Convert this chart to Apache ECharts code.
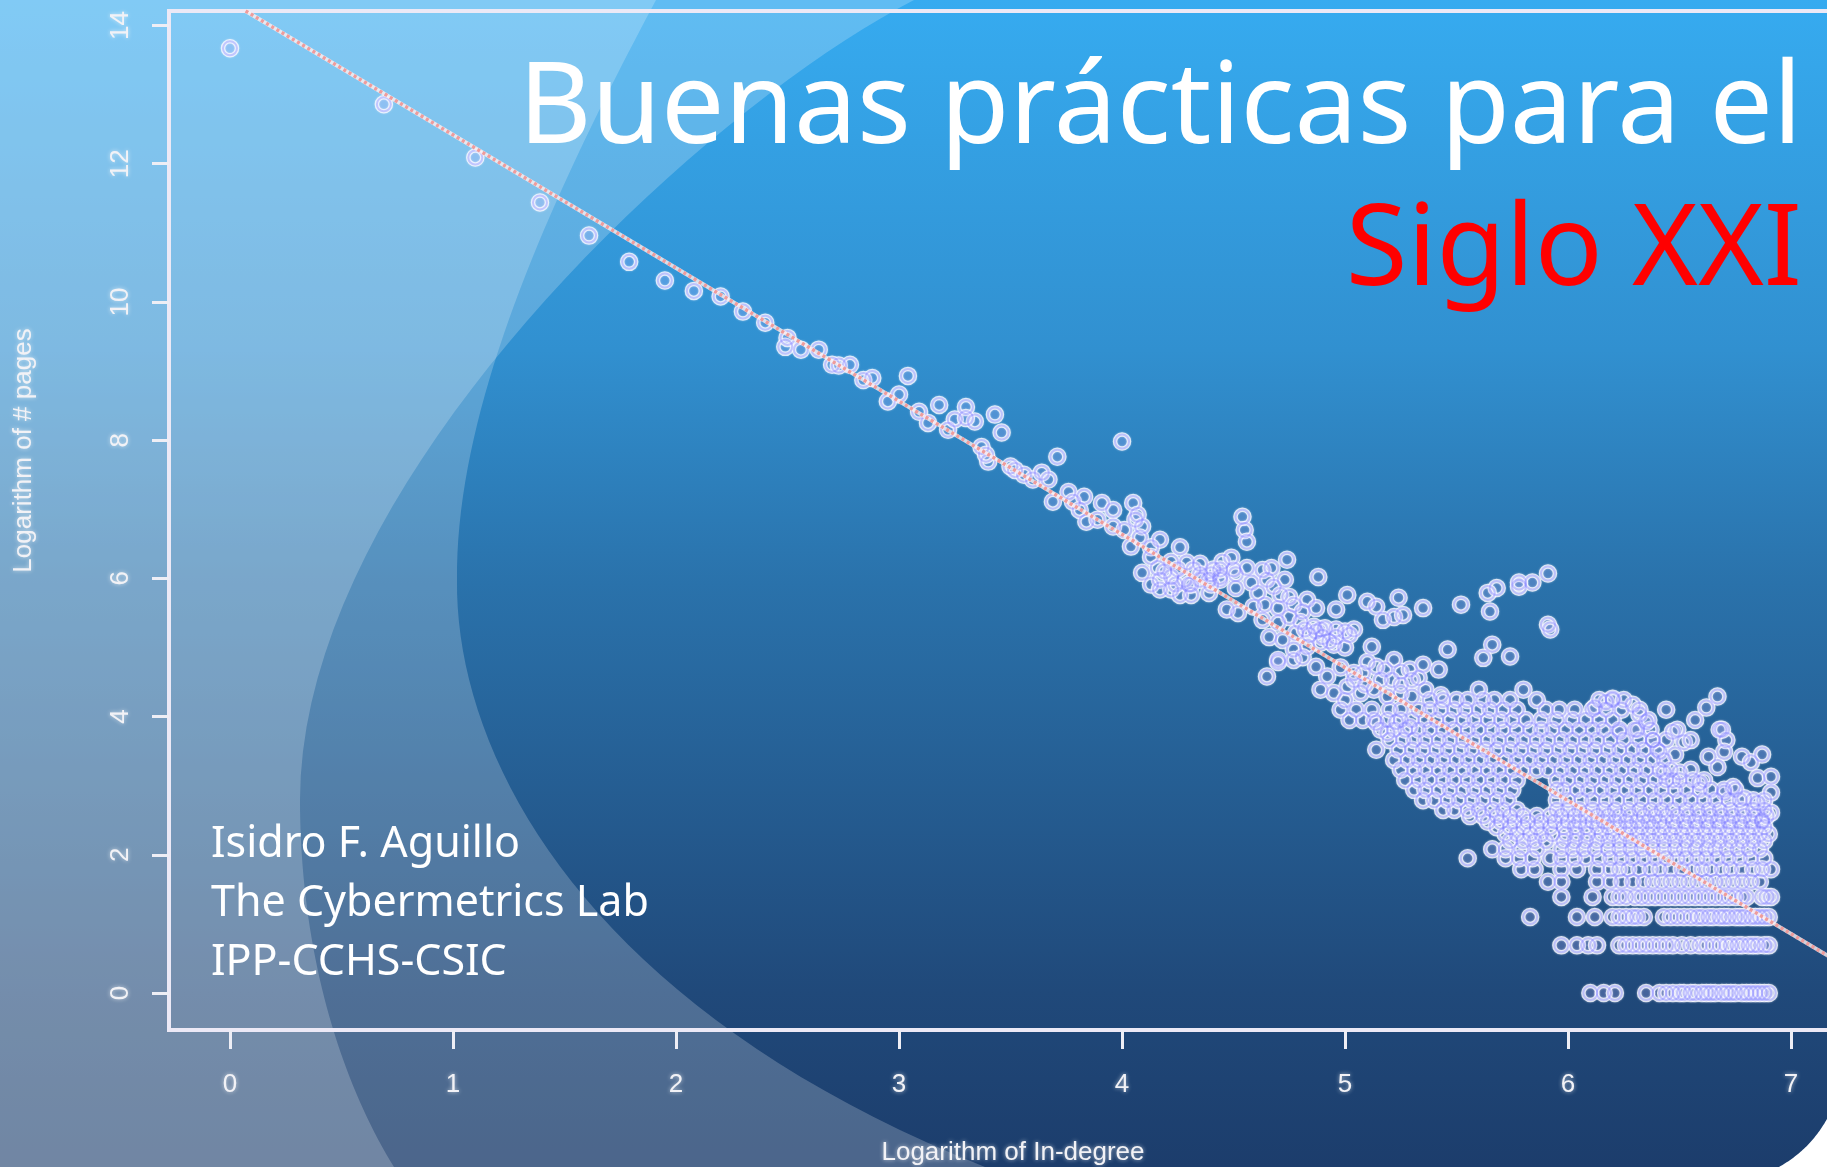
<!DOCTYPE html>
<html><head><meta charset="utf-8"><title>Buenas prácticas para el Siglo XXI</title>
<style>html,body{margin:0;padding:0;background:#fff;overflow:hidden}#c{width:1827px;height:1167px}</style>
<script src="https://cdn.jsdelivr.net/npm/echarts@6/dist/echarts.min.js"></script></head>
<body><div id="c"></div><script>
const xTicks=[0,1,2,3,4,5,6,7];
const yTicks=[0,2,4,6,8,10,12,14];
const fitLine=[[0.07,14.21],[7.206,0.46]];
// individually read points: [log in-degree, log pages]
const sparsePoints=[[0,13.67],[0.69,12.86],[1.10,12.09],[1.39,11.44],[1.61,10.96],[1.79,10.58],[1.95,10.31],[2.08,10.16],[2.20,10.08],[2.30,9.86],[2.40,9.70],[2.49,9.35],[2.50,9.48],[2.56,9.31],[2.64,9.31],[2.70,9.09],[2.73,9.08],[2.78,9.09],[2.84,8.87],[2.88,8.90],[2.95,8.56],[3.00,8.66],[3.04,8.93],[3.09,8.41],[3.13,8.25],[3.18,8.51],[3.22,8.15],[3.25,8.30],[3.30,8.48],[3.34,8.27],[3.30,8.32],[3.43,8.37],[3.46,8.11],[3.37,7.90],[3.40,7.69],[3.39,7.79],[3.50,7.62],[3.52,7.57],[3.56,7.50],[3.60,7.43],[3.64,7.53],[3.67,7.43],[3.71,7.76],[3.69,7.11],[3.76,7.25],[3.78,7.11],[3.83,7.18],[3.81,6.99],[3.84,6.82],[3.91,7.09],[3.89,6.85],[3.96,6.99],[3.96,6.75],[4.00,7.98],[4.05,7.09],[4.04,6.46],[4.06,6.85],[4.01,6.70],
[4.07,6.92],[4.09,6.75],[4.17,6.56],[4.08,6.59],[4.13,6.45],[4.13,6.31],[4.26,6.45],[4.29,6.23],[4.22,6.24],[4.09,6.08],[4.16,6.15],[4.17,5.98],[4.22,5.84],[4.26,5.76],[4.31,5.76],[4.39,5.79],[4.22,6.02],[4.28,5.98],[4.35,5.98],[4.25,6.13],[4.32,6.13],[4.41,6.13],[4.45,6.24],[4.49,6.30],[4.44,6.02],[4.50,6.13],[4.39,5.98],[4.51,5.86],[4.56,6.15],[4.58,5.94],[4.63,6.12],[4.67,6.15],[4.74,6.27],[4.73,5.98],[4.65,5.98],[4.61,5.79],[4.47,5.55],[4.52,5.50],[4.68,5.88],[4.59,5.59],[4.64,5.62],[4.71,5.76],[4.75,5.73],[4.70,5.57],[4.77,5.62],[4.83,5.69],[4.87,5.57],[4.81,5.52],[4.75,5.44],[4.63,5.40],[4.70,5.36],[4.80,5.37],[4.86,5.30],[4.66,5.15],[4.72,5.11],[4.78,5.21],[4.84,5.18],[4.90,5.15],[4.96,5.15],[5.02,5.18],[4.89,5.07],[4.95,5.04],[5.00,5.00],[4.77,4.97],[4.83,5.01],[4.70,4.82],[4.65,4.58],[4.77,4.82],[4.81,4.86],[4.87,4.72],[5.12,5.01],[5.10,4.79],[5.14,4.72],[5.22,4.82],[5.25,4.65],[5.08,4.63],[5.16,4.53],[4.98,4.71],[5.04,4.63],[5.21,4.53],[4.92,4.58],[4.89,4.39],[4.95,4.34],[5.01,4.43],[5.07,4.34],[5.13,4.39],[5.19,4.29],[5.25,4.34],[5.30,4.29],[5.14,3.91],[5.19,3.76],[5.23,3.92],[5.29,3.85],[5.14,3.52],
[4.54,6.89],[4.55,6.70],[4.56,6.53],[4.88,6.02],[5.01,5.76],[4.96,5.55],[5.10,5.66],[5.14,5.59],[5.17,5.40],[5.24,5.72],[5.22,5.44],[5.26,5.47],[5.35,5.57],[5.52,5.62],[5.68,5.86],[5.64,5.79],[5.65,5.52],[5.78,5.88],[5.78,5.94],[5.84,5.94],[5.91,6.07],[5.91,5.33],[5.92,5.26],[5.66,5.04],[5.62,4.85],[5.74,4.87],[5.60,4.39],[5.80,4.39],[4.70,4.79],[5.33,4.56],[5.35,4.75],[5.42,4.68],[5.46,4.97],[5.55,1.95],
[6.17,4.21],[6.20,4.26],[6.12,4.13],[6.29,4.17],[6.32,4.03],[6.35,3.92],[6.23,3.78],[6.31,3.81],[6.38,3.66],[6.41,3.49],[6.47,3.78],[6.52,3.63],[6.48,3.45],[6.62,4.13],[6.67,4.29],[6.68,3.81],[6.71,3.66],[6.63,3.42],[6.67,3.27],[6.70,3.49],[6.78,3.42],[6.87,3.45],[6.82,3.34],[6.85,3.11],[6.91,3.13],[6.74,2.98],[6.70,2.90],[6.55,3.23],[6.59,3.04],[6.50,3.19],[6.43,3.19],[6.47,3.08],[6.91,2.90],[6.91,2.61],[6.79,2.82],[6.85,2.75],[6.87,2.50],
[4.35,6.21],[4.40,6.06],[4.44,5.98],[4.35,6.06],[4.31,5.91],[4.40,5.91],[4.44,6.13],[4.51,6.06],[4.82,5.26],[4.87,5.23],[4.91,5.28],[4.96,5.26],[5.00,5.23],[5.04,5.26],[4.93,5.09],[4.89,5.26],[4.13,5.91],[4.17,5.84],[4.24,5.91],[4.30,5.91],[4.19,6.10],[5.00,4.24],[5.04,4.53],[5.09,4.46],[5.18,4.68],[5.25,4.46],[5.29,4.68],[5.30,4.53],[5.36,4.39],[5.43,4.31]];
// the dense part of the cloud, as rows of equal log pages
const rowLevels=[0,0.69,1.10,1.39,1.61,1.79,1.95,2.08,2.20,2.30,2.40,2.48,2.56,2.65,2.79,2.94,3.08,3.23,3.37,3.52,3.66,3.81,3.95,4.10,4.24];
const rowXs=[
[6.10,6.16,6.21,6.35,6.41,6.44,6.47,6.50,6.52,6.55,6.57,6.60,6.62,6.64,6.66,6.69,6.71,6.73,6.75,6.78,6.80,6.82,6.84,6.86,6.88,6.90],
[5.97,6.04,6.09,6.13,6.23,6.26,6.29,6.32,6.35,6.38,6.41,6.44,6.47,6.51,6.55,6.59,6.62,6.65,6.68,6.71,6.73,6.76,6.78,6.81,6.83,6.85,6.88,6.90],
[5.83,6.04,6.12,6.20,6.23,6.26,6.29,6.31,6.34,6.43,6.46,6.49,6.52,6.55,6.58,6.60,6.63,6.65,6.68,6.70,6.72,6.75,6.77,6.79,6.82,6.84,6.86,6.88,6.90],
[5.97,6.11,6.20,6.23,6.26,6.30,6.33,6.36,6.39,6.42,6.45,6.48,6.51,6.54,6.57,6.60,6.63,6.66,6.69,6.72,6.75,6.78,6.80,6.87,6.89,6.91],
[5.91,5.97,6.13,6.19,6.24,6.29,6.34,6.38,6.42,6.46,6.50,6.54,6.58,6.62,6.66,6.70,6.74,6.78,6.82,6.86],
[5.79,5.85,5.97,6.04,6.13,6.19,6.23,6.27,6.32,6.37,6.41,6.46,6.51,6.56,6.60,6.64,6.69,6.73,6.78,6.83,6.87,6.91],
[5.72,5.78,5.84,5.92,5.97,6.03,6.08,6.14,6.19,6.24,6.29,6.34,6.39,6.44,6.49,6.53,6.58,6.62,6.67,6.72,6.77,6.82,6.88],
[5.66,5.72,5.79,5.86,5.97,6.02,6.07,6.12,6.18,6.23,6.28,6.33,6.38,6.43,6.48,6.52,6.57,6.62,6.66,6.71,6.76,6.81,6.86],
[5.74,5.80,5.85,5.90,5.98,6.03,6.08,6.13,6.18,6.23,6.28,6.33,6.38,6.43,6.48,6.53,6.58,6.63,6.68,6.73,6.78,6.83,6.88],
[5.72,5.77,5.83,5.88,5.93,5.99,6.04,6.09,6.15,6.20,6.26,6.31,6.36,6.41,6.46,6.51,6.56,6.61,6.66,6.71,6.76,6.81,6.86,6.90],
[5.68,5.74,5.80,5.86,5.92,5.98,6.03,6.08,6.13,6.18,6.23,6.28,6.33,6.38,6.43,6.48,6.53,6.58,6.63,6.68,6.73,6.78,6.83,6.88],
[5.64,5.70,5.76,5.82,5.88,5.94,6.00,6.05,6.11,6.16,6.21,6.26,6.31,6.36,6.41,6.47,6.52,6.57,6.62,6.67,6.72,6.77,6.82,6.87],
[5.56,5.62,5.68,5.74,5.80,5.86,5.92,5.97,6.03,6.08,6.13,6.18,6.23,6.28,6.34,6.39,6.44,6.49,6.54,6.59,6.64,6.69,6.74,6.79,6.84,6.89],
[5.44,5.49,5.55,5.60,5.66,5.71,5.77,5.95,6.00,6.05,6.11,6.16,6.21,6.27,6.32,6.37,6.42,6.47,6.53,6.58,6.63,6.68,6.73,6.78,6.83,6.88],
[5.35,5.40,5.46,5.51,5.57,5.62,5.68,5.73,5.95,6.00,6.06,6.11,6.17,6.22,6.28,6.33,6.39,6.44,6.50,6.55,6.61,6.66,6.72,6.77,6.83,6.88],
[5.31,5.36,5.42,5.47,5.53,5.58,5.64,5.69,5.75,5.95,5.98,6.04,6.09,6.15,6.20,6.26,6.31,6.37,6.42,6.48,6.53,6.59,6.64,6.70,6.75],
[5.27,5.33,5.38,5.44,5.49,5.55,5.60,5.66,5.71,5.77,5.95,6.00,6.06,6.11,6.17,6.22,6.28,6.33,6.39,6.44,6.50,6.56,6.61],
[5.25,5.31,5.36,5.42,5.47,5.53,5.58,5.64,5.69,5.75,5.80,5.86,5.91,5.97,6.02,6.08,6.13,6.19,6.24,6.30,6.35,6.41,6.46],
[5.22,5.28,5.33,5.39,5.44,5.50,5.55,5.61,5.66,5.72,5.77,5.83,5.88,5.94,5.99,6.05,6.10,6.16,6.21,6.27,6.32,6.38,6.43],
[5.24,5.30,5.35,5.41,5.46,5.52,5.57,5.63,5.68,5.74,5.79,5.85,5.90,5.96,6.01,6.07,6.12,6.18,6.23,6.29,6.34,6.40],
[5.20,5.26,5.31,5.36,5.42,5.47,5.53,5.58,5.64,5.69,5.75,5.80,5.86,5.91,5.97,6.02,6.08,6.13,6.19,6.25,6.32,6.38,6.44,6.55],
[5.16,5.22,5.27,5.33,5.38,5.44,5.49,5.55,5.60,5.66,5.71,5.77,5.83,5.88,5.93,5.99,6.05,6.11,6.16,6.23,6.30,6.37,6.49,6.69],
[5.02,5.08,5.13,5.19,5.25,5.30,5.36,5.41,5.47,5.53,5.58,5.64,5.70,5.75,5.81,5.88,5.95,6.02,6.08,6.14,6.20,6.36,6.57],
[4.98,5.05,5.12,5.20,5.25,5.33,5.38,5.43,5.49,5.54,5.60,5.65,5.71,5.77,5.90,5.96,6.03,6.11,6.17,6.24,6.32,6.44],
[5.38,5.44,5.50,5.55,5.62,5.67,5.74,5.86,6.14,6.20,6.25]];
const points=sparsePoints.concat(rowLevels.flatMap((y,i)=>rowXs[i].map(x=>[x,y])));
const xTitle='Logarithm of In-degree', yTitle='Logarithm of # pages';
const heading=['Buenas prácticas para el','Siglo XXI'];
const author=['Isidro F. Aguillo','The Cybermetrics Lab','IPP-CCHS-CSIC'];

// decorative slide background: sampled curves for the two translucent swooshes
function curve(a,b,c,d){const o=[];for(let i=0;i<=40;i++){const t=i/40,u=1-t;o.push([0,1].map(k=>u*u*u*a[k]+3*u*u*t*b[k]+3*u*t*t*c[k]+t*t*t*d[k]));}return o;}
const swooshOuter=[...curve([914,0],[700,110],[300,480],[300,800]),...curve([300,800],[300,950],[340,1080],[394,1167]),[0,1167],[0,0]];
const swooshInner=[...curve([656,0],[560,180],[455,400],[457,580]),...curve([457,580],[455,760],[590,1010],[985,1167]),[0,1167],[0,0]];
const cornerCut=[...curve([1827,1119],[1815,1140],[1800,1155],[1779,1167]),[1827,1167]];

const FONT='"Noto Sans"';
const labelStyle={color:'#f2f2f6',fontFamily:'Liberation Sans',fontSize:26,textShadowColor:'rgba(255,255,255,.65)',textShadowBlur:4};
const chart=echarts.init(document.getElementById('c'),null,{renderer:'canvas'});
chart.setOption({
 animation:false,
 backgroundColor:{type:'linear',x:0,y:0,x2:0,y2:1,colorStops:[{offset:0,color:'#36abf0'},{offset:.3,color:'#3190d0'},{offset:.5,color:'#2a72ab'},{offset:.85,color:'#20497a'},{offset:1,color:'#1c3d6c'}]},
 title:[
  {text:heading[0],right:20,top:49,textStyle:{color:'#fff',fontFamily:FONT,fontWeight:'normal',fontSize:112.5}},
  {text:heading[1],right:20,top:191,textStyle:{color:'#f00',fontFamily:FONT,fontWeight:'normal',fontSize:112.5}},
  {text:author[0],left:206,top:818,textStyle:{color:'#fff',fontFamily:FONT,fontWeight:'normal',fontSize:43}},
  {text:author[1],left:206,top:877,textStyle:{color:'#fff',fontFamily:FONT,fontWeight:'normal',fontSize:43}},
  {text:author[2],left:206,top:936,textStyle:{color:'#fff',fontFamily:FONT,fontWeight:'normal',fontSize:43}}
 ],
 graphic:[
  {type:'polygon',z:-2,silent:true,shape:{points:swooshOuter},style:{fill:'rgba(255,255,255,.21)'}},
  {type:'polygon',z:-2,silent:true,shape:{points:swooshInner},style:{fill:'rgba(255,255,255,.21)'}},
  {type:'polygon',z:50,silent:true,shape:{points:cornerCut},style:{fill:'#fff'}}
 ],
 grid:{left:169,top:11,right:-10,bottom:137,outerBoundsMode:'none',show:true,borderColor:'#ece9f6',borderWidth:4,backgroundColor:'transparent'},
 xAxis:{type:'value',min:-0.2735,max:7.206,splitLine:{show:false},axisLine:{show:false,onZero:false},
  axisTick:{show:true,customValues:xTicks,length:19,lineStyle:{color:'#eeeef5',width:3}},
  axisLabel:Object.assign({customValues:xTicks,margin:42},labelStyle),
  name:xTitle,nameLocation:'middle',nameGap:110,nameTextStyle:Object.assign({padding:[0,0,0,20]},labelStyle)},
 yAxis:{type:'value',min:-0.535,max:14.21,splitLine:{show:false},axisLine:{show:false,onZero:false},
  axisTick:{show:true,customValues:yTicks,length:17,lineStyle:{color:'#eeeef5',width:3}},
  axisLabel:Object.assign({customValues:yTicks,margin:35,rotate:90},labelStyle),
  name:yTitle,nameLocation:'middle',nameGap:132,nameRotate:90,nameTextStyle:Object.assign({padding:[0,0,0,140]},labelStyle)},
 series:[
  {type:'scatter',data:points,symbol:'circle',symbolSize:14,z:3,silent:true,itemStyle:{color:'rgba(150,150,255,.2)',borderColor:'rgba(250,250,255,.98)',borderWidth:4.5,shadowBlur:2,shadowColor:'rgba(235,235,255,.7)'}},
  {type:'scatter',data:points,symbol:'circle',symbolSize:14,z:4,silent:true,itemStyle:{color:'transparent',borderColor:'rgba(110,110,255,.42)',borderWidth:2}},
  {type:'line',data:fitLine,symbol:'none',z:5,silent:true,lineStyle:{color:'rgba(255,240,240,.8)',width:4}},
  {type:'line',data:fitLine,symbol:'none',z:6,silent:true,lineStyle:{color:'#ee9c9c',width:3.5,type:[3,3]}}
 ]
});
</script></body></html>
